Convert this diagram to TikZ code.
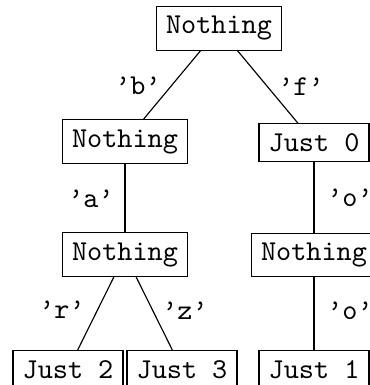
\documentclass[tikz,border=0pt]{standalone}
\begin{document}
\begin{tikzpicture}[x=0.3472pt,y=-0.3472pt,
  box/.style={draw,line width=0.4pt,font=\ttfamily,inner sep=3.333pt},
  lab/.style={font=\ttfamily,inner sep=0pt},
  edge/.style={line width=0.4pt}]
\path[use as bounding box] (0,0) rectangle (370,385);
\clip (0,0) rectangle (370,385);
\node[box] (root) at (219,28.5) {Nothing};
\node[box] (nb) at (125,141.5) {Nothing};
\node[box] (jf) at (314,142.5) {Just 0};
\node[box] (na) at (125,254.5) {Nothing};
\node[box] (no) at (314,255) {Nothing};
\node[box] (jr) at (68,369.5) {Just 2};
\node[box] (jz) at (182,369.5) {Just 3};
\node[box] (jo) at (314,369.5) {Just 1};
\draw[edge] (root) -- (nb);
\draw[edge] (root) -- (jf);
\draw[edge] (nb) -- (na);
\draw[edge] (jf) -- (no);
\draw[edge] (na) -- (jr);
\draw[edge] (na) -- (jz);
\draw[edge] (no) -- (jo);
\node[lab] (lb) at (138,86) {’b’};
\node[lab] (lf) at (301,87) {’f’};
\node[lab] (la) at (91,199) {’a’};
\node[lab] (lo1) at (350,198) {’o’};
\node[lab] (lr) at (62,310) {’r’};
\node[lab] (lz) at (185,311) {’z’};
\node[lab] (lo2) at (350,311) {’o’};
\end{tikzpicture}
\end{document}
